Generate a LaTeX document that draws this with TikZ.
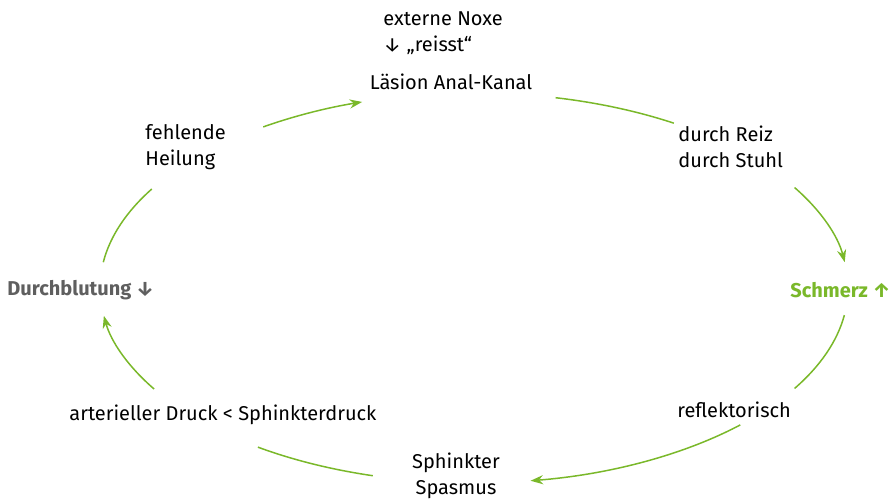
\documentclass[tikz,border=0pt]{standalone}
\usepackage{fontspec}
\setmainfont{Fira Sans}
\usepackage{tikz}
\usetikzlibrary{arrows.meta}
\usetikzlibrary{calc}
\definecolor{cyclegreen}{RGB}{122,184,42}
\definecolor{dgray}{RGB}{95,95,95}
\newcommand{\cyclearc}[3]{\draw[cyclegreen, line width=0.75pt, #1] ($(ctr)+(#2:187pt and 97.5pt)$) arc[start angle=#2, end angle=#3, x radius=187pt, y radius=97.5pt];}

\begin{document}
\begin{tikzpicture}[x=0.5pt, y=0.5pt, every node/.style={inner sep=0pt, font=\fontsize{10}{13}\selectfont}]
    \useasboundingbox (0, 0) rectangle (894, 499);
    \coordinate (ctr) at (474, 211);

    % Draw labels
    \node[anchor=west, align=left] (noxe) at (383, 466) {externe Noxe\\↓ „reisst“};
    \node (laesion) at (451, 417) {Läsion Anal-Kanal};
    \node[anchor=west, align=left] (reiz) at (678, 352) {durch Reiz\\durch Stuhl};
    \node[anchor=east, text=cyclegreen, font=\fontsize{10}{13}\selectfont\bfseries] (schmerz) at (891, 209) {Schmerz ↑};
    \node[anchor=west] (reflex) at (677, 89) {reflektorisch};
    \node[align=center] (spasmus) at (456, 23) {Sphinkter\\Spasmus};
    \node[anchor=west] (druck) at (69, 84) {arterieller Druck < Sphinkterdruck};
    \node[anchor=west, text=dgray, font=\fontsize{10}{13}\selectfont\bfseries] (durchbl) at (7, 209) {Durchblutung ↓};
    \node[anchor=west, align=left] (heilung) at (145, 352) {fehlende\\Heilung};

    % Draw cycle
    \cyclearc{-{Stealth[length=2.2mm, width=1.6mm]}}{124.3}{107.4}
    \cyclearc{}{77.4}{57.7}
    \cyclearc{-{Stealth[length=2.2mm, width=1.6mm]}}{31}{7.6}
    \cyclearc{}{-8}{-31}
    \cyclearc{-{Stealth[length=2.2mm, width=1.6mm]}}{-44.6}{-81.3}
    \cyclearc{}{-105.7}{-125.3}
    \cyclearc{-{Stealth[length=2.2mm, width=1.6mm]}}{-148.8}{-171.8}
    \cyclearc{}{172.4}{149.5}
\end{tikzpicture}
\end{document}
